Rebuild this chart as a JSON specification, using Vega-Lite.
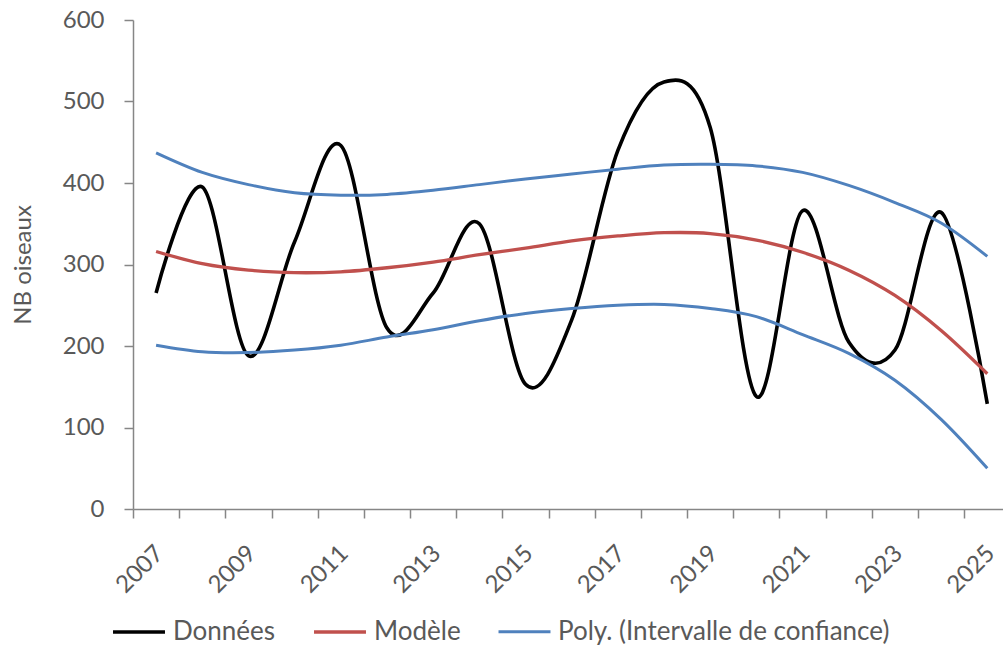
{
  "$schema": "https://vega.github.io/schema/vega-lite/v6.json",
  "width": 870,
  "height": 489,
  "autosize": {"type": "none"},
  "padding": {"left": 133, "top": 20, "right": 0, "bottom": 136},
  "background": "white",
  "config": {
    "view": {"stroke": null},
    "font": "Lato",
    "axis": {
      "domainColor": "#868686",
      "domainWidth": 1.5,
      "tickColor": "#868686",
      "tickWidth": 1.5,
      "tickSize": 9,
      "grid": false,
      "labelColor": "#595959",
      "labelFont": "Lato",
      "labelFontSize": 24,
      "titleColor": "#595959",
      "titleFont": "Lato",
      "titleFontSize": 24,
      "titleFontWeight": "normal"
    }
  },
  "data": {
    "values": [
      {"annee": 2007, "nb": 265, "serie": "Données", "courbe": "d"},
      {"annee": 2008, "nb": 395, "serie": "Données", "courbe": "d"},
      {"annee": 2009, "nb": 188, "serie": "Données", "courbe": "d"},
      {"annee": 2010, "nb": 328, "serie": "Données", "courbe": "d"},
      {"annee": 2011, "nb": 446, "serie": "Données", "courbe": "d"},
      {"annee": 2012, "nb": 222, "serie": "Données", "courbe": "d"},
      {"annee": 2013, "nb": 265, "serie": "Données", "courbe": "d"},
      {"annee": 2014, "nb": 350, "serie": "Données", "courbe": "d"},
      {"annee": 2015, "nb": 153, "serie": "Données", "courbe": "d"},
      {"annee": 2016, "nb": 232, "serie": "Données", "courbe": "d"},
      {"annee": 2017, "nb": 440, "serie": "Données", "courbe": "d"},
      {"annee": 2018, "nb": 524, "serie": "Données", "courbe": "d"},
      {"annee": 2019, "nb": 468, "serie": "Données", "courbe": "d"},
      {"annee": 2020, "nb": 138, "serie": "Données", "courbe": "d"},
      {"annee": 2021, "nb": 366, "serie": "Données", "courbe": "d"},
      {"annee": 2022, "nb": 205, "serie": "Données", "courbe": "d"},
      {"annee": 2023, "nb": 195, "serie": "Données", "courbe": "d"},
      {"annee": 2024, "nb": 364, "serie": "Données", "courbe": "d"},
      {"annee": 2025, "nb": 129, "serie": "Données", "courbe": "d"},

      {"annee": 2007, "nb": 316, "serie": "Modèle", "courbe": "m"},
      {"annee": 2008, "nb": 301, "serie": "Modèle", "courbe": "m"},
      {"annee": 2009, "nb": 293, "serie": "Modèle", "courbe": "m"},
      {"annee": 2010, "nb": 290, "serie": "Modèle", "courbe": "m"},
      {"annee": 2011, "nb": 291, "serie": "Modèle", "courbe": "m"},
      {"annee": 2012, "nb": 296, "serie": "Modèle", "courbe": "m"},
      {"annee": 2013, "nb": 303, "serie": "Modèle", "courbe": "m"},
      {"annee": 2014, "nb": 312, "serie": "Modèle", "courbe": "m"},
      {"annee": 2015, "nb": 320, "serie": "Modèle", "courbe": "m"},
      {"annee": 2016, "nb": 329, "serie": "Modèle", "courbe": "m"},
      {"annee": 2017, "nb": 335, "serie": "Modèle", "courbe": "m"},
      {"annee": 2018, "nb": 339, "serie": "Modèle", "courbe": "m"},
      {"annee": 2019, "nb": 338, "serie": "Modèle", "courbe": "m"},
      {"annee": 2020, "nb": 330, "serie": "Modèle", "courbe": "m"},
      {"annee": 2021, "nb": 315, "serie": "Modèle", "courbe": "m"},
      {"annee": 2022, "nb": 293, "serie": "Modèle", "courbe": "m"},
      {"annee": 2023, "nb": 262, "serie": "Modèle", "courbe": "m"},
      {"annee": 2024, "nb": 219, "serie": "Modèle", "courbe": "m"},
      {"annee": 2025, "nb": 166, "serie": "Modèle", "courbe": "m"},

      {"annee": 2007, "nb": 437, "serie": "Poly. (Intervalle de confiance)", "courbe": "hi"},
      {"annee": 2008, "nb": 413, "serie": "Poly. (Intervalle de confiance)", "courbe": "hi"},
      {"annee": 2009, "nb": 398, "serie": "Poly. (Intervalle de confiance)", "courbe": "hi"},
      {"annee": 2010, "nb": 388, "serie": "Poly. (Intervalle de confiance)", "courbe": "hi"},
      {"annee": 2011, "nb": 385, "serie": "Poly. (Intervalle de confiance)", "courbe": "hi"},
      {"annee": 2012, "nb": 386, "serie": "Poly. (Intervalle de confiance)", "courbe": "hi"},
      {"annee": 2013, "nb": 391, "serie": "Poly. (Intervalle de confiance)", "courbe": "hi"},
      {"annee": 2014, "nb": 398, "serie": "Poly. (Intervalle de confiance)", "courbe": "hi"},
      {"annee": 2015, "nb": 405, "serie": "Poly. (Intervalle de confiance)", "courbe": "hi"},
      {"annee": 2016, "nb": 411, "serie": "Poly. (Intervalle de confiance)", "courbe": "hi"},
      {"annee": 2017, "nb": 417, "serie": "Poly. (Intervalle de confiance)", "courbe": "hi"},
      {"annee": 2018, "nb": 422, "serie": "Poly. (Intervalle de confiance)", "courbe": "hi"},
      {"annee": 2019, "nb": 423, "serie": "Poly. (Intervalle de confiance)", "courbe": "hi"},
      {"annee": 2020, "nb": 421, "serie": "Poly. (Intervalle de confiance)", "courbe": "hi"},
      {"annee": 2021, "nb": 413, "serie": "Poly. (Intervalle de confiance)", "courbe": "hi"},
      {"annee": 2022, "nb": 397, "serie": "Poly. (Intervalle de confiance)", "courbe": "hi"},
      {"annee": 2023, "nb": 376, "serie": "Poly. (Intervalle de confiance)", "courbe": "hi"},
      {"annee": 2024, "nb": 351, "serie": "Poly. (Intervalle de confiance)", "courbe": "hi"},
      {"annee": 2025, "nb": 310, "serie": "Poly. (Intervalle de confiance)", "courbe": "hi"},

      {"annee": 2007, "nb": 201, "serie": "Poly. (Intervalle de confiance)", "courbe": "lo"},
      {"annee": 2008, "nb": 193, "serie": "Poly. (Intervalle de confiance)", "courbe": "lo"},
      {"annee": 2009, "nb": 192, "serie": "Poly. (Intervalle de confiance)", "courbe": "lo"},
      {"annee": 2010, "nb": 195, "serie": "Poly. (Intervalle de confiance)", "courbe": "lo"},
      {"annee": 2011, "nb": 201, "serie": "Poly. (Intervalle de confiance)", "courbe": "lo"},
      {"annee": 2012, "nb": 211, "serie": "Poly. (Intervalle de confiance)", "courbe": "lo"},
      {"annee": 2013, "nb": 220, "serie": "Poly. (Intervalle de confiance)", "courbe": "lo"},
      {"annee": 2014, "nb": 231, "serie": "Poly. (Intervalle de confiance)", "courbe": "lo"},
      {"annee": 2015, "nb": 240, "serie": "Poly. (Intervalle de confiance)", "courbe": "lo"},
      {"annee": 2016, "nb": 246, "serie": "Poly. (Intervalle de confiance)", "courbe": "lo"},
      {"annee": 2017, "nb": 250, "serie": "Poly. (Intervalle de confiance)", "courbe": "lo"},
      {"annee": 2018, "nb": 251, "serie": "Poly. (Intervalle de confiance)", "courbe": "lo"},
      {"annee": 2019, "nb": 246, "serie": "Poly. (Intervalle de confiance)", "courbe": "lo"},
      {"annee": 2020, "nb": 236, "serie": "Poly. (Intervalle de confiance)", "courbe": "lo"},
      {"annee": 2021, "nb": 214, "serie": "Poly. (Intervalle de confiance)", "courbe": "lo"},
      {"annee": 2022, "nb": 191, "serie": "Poly. (Intervalle de confiance)", "courbe": "lo"},
      {"annee": 2023, "nb": 158, "serie": "Poly. (Intervalle de confiance)", "courbe": "lo"},
      {"annee": 2024, "nb": 110, "serie": "Poly. (Intervalle de confiance)", "courbe": "lo"},
      {"annee": 2025, "nb": 50, "serie": "Poly. (Intervalle de confiance)", "courbe": "lo"}
    ]
  },
  "mark": {"type": "line", "interpolate": "cardinal"},
  "encoding": {
    "x": {
      "field": "annee",
      "type": "quantitative",
      "scale": {"domain": [2006.5, 2025.34], "nice": false, "zero": false},
      "axis": {
        "title": null,
        "values": [2006.5, 2007.5, 2008.5, 2009.5, 2010.5, 2011.5, 2012.5, 2013.5, 2014.5, 2015.5, 2016.5, 2017.5, 2018.5, 2019.5, 2020.5, 2021.5, 2022.5, 2023.5, 2024.5],
        "labelExpr": "(datum.value + 0.5) % 2 == 1 ? format(datum.value + 0.5, 'd') : ''",
        "labelAngle": -45,
        "labelAlign": "right",
        "labelBaseline": "top",
        "labelOffset": 18,
        "labelPadding": 23,
        "labelOverlap": false,
        "labelFlush": false,
        "labelBound": false
      }
    },
    "y": {
      "field": "nb",
      "type": "quantitative",
      "scale": {"domain": [0, 600], "nice": false},
      "axis": {
        "title": "NB oiseaux",
        "values": [0, 100, 200, 300, 400, 500, 600],
        "labelPadding": 20,
        "titlePadding": 27
      }
    },
    "color": {
      "field": "serie",
      "type": "nominal",
      "sort": ["Données", "Modèle", "Poly. (Intervalle de confiance)"],
      "scale": {
        "domain": ["Données", "Modèle", "Poly. (Intervalle de confiance)"],
        "range": ["#000000", "#C0504D", "#4F81BD"]
      },
      "legend": {
        "title": null,
        "orient": "none",
        "legendX": -22,
        "legendY": 584,
        "direction": "horizontal",
        "symbolType": "stroke",
        "symbolSize": 2700,
        "symbolStrokeWidth": 3.5,
        "labelFont": "Lato",
        "labelFontSize": 26,
        "labelColor": "#595959",
        "labelOffset": 6,
        "columnPadding": 31,
        "labelLimit": 0
      }
    },
    "detail": {"field": "courbe"},
    "strokeWidth": {
      "field": "serie",
      "type": "nominal",
      "scale": {
        "domain": ["Données", "Modèle", "Poly. (Intervalle de confiance)"],
        "range": [3.6, 3, 3]
      },
      "legend": null
    }
  }
}
